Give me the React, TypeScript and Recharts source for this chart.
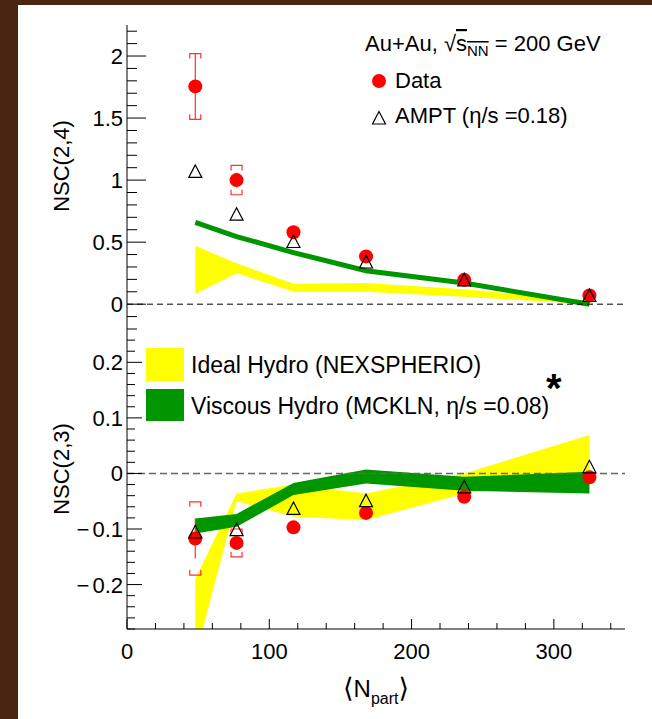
import React from "react";
import {
  Area,
  ComposedChart,
  ErrorBar,
  Legend,
  Line,
  ReferenceLine,
  Scatter,
  XAxis,
  YAxis,
} from "recharts";

const FONT = '"Liberation Sans", Arial, Helvetica, sans-serif';
const RED = "#ff0000";
const YELLOW = "#ffff00";
const GREEN = "#009600";

// centrality classes, <Npart>
const npart = [48, 77, 117, 168, 237, 325];

// NSC(2,4)
const nsc24 = [1.755, 1.0, 0.58, 0.385, 0.196, 0.07];
const nsc24Stat = [0.265, 0.06, 0, 0, 0, 0];
const nsc24Sys = [0.265, 0.118, 0, 0, 0, 0];
const nsc24Ampt = [1.07, 0.725, 0.505, 0.34, 0.196, 0.07];
const nsc24IdealLow = [0.083, 0.25, 0.1, 0.1, 0.06, 0.0];
const nsc24IdealHigh = [0.47, 0.33, 0.164, 0.17, 0.12, 0.03];
const nsc24Viscous = [0.66, 0.545, 0.416, 0.27, 0.17, 0.0];

// NSC(2,3)
const nsc23 = [-0.117, -0.125, -0.097, -0.071, -0.042, -0.007];
const nsc23Stat = [0.036, 0.01, 0, 0, 0, 0];
const nsc23Sys = [0.066, 0.025, 0, 0, 0, 0];
const nsc23Ampt = [-0.105, -0.101, -0.063, -0.049, -0.024, 0.012];
const nsc23IdealLow = [-0.33, -0.05, -0.078, -0.084, -0.036, -0.005];
const nsc23IdealHigh = [-0.19, -0.036, -0.02, -0.036, 0.0, 0.069];
const nsc23ViscousLow = [-0.108, -0.096, -0.039, -0.018, -0.031, -0.036];
const nsc23ViscousHigh = [-0.081, -0.073, -0.017, 0.007, -0.006, 0.003];

// axis ticks
const xTicks = Array.from({ length: 18 }, (_, i) => i * 20);
const y24Ticks = Array.from({ length: 25 }, (_, i) => (i - 2) / 10);
const y23Ticks = Array.from({ length: 27 }, (_, i) => (i - 14) / 50);

const points = (ys: number[], errs?: number[]) =>
  npart.map((x, i) => ({ x, y: ys[i], stat: errs ? errs[i] : 0 }));

const band = (lo: number[], hi: number[]) =>
  npart.map((x, i) => ({ x, band: [lo[i], hi[i]] }));

const brackets = (ys: number[], sys: number[]) =>
  npart.flatMap((x, i) =>
    sys[i] > 0
      ? [
          { x, y: ys[i] + sys[i], side: "top" },
          { x, y: ys[i] - sys[i], side: "bottom" },
        ]
      : []
  );

const Dot = (p: any) => <circle cx={p.cx} cy={p.cy} r={7} fill={RED} />;

const Tri = (p: any) => (
  <path
    d={`M${p.cx},${p.cy - 6.5}L${p.cx + 6.5},${p.cy + 6}L${p.cx - 6.5},${p.cy + 6}Z`}
    fill="none"
    stroke="#000"
    strokeWidth={1.2}
  />
);

const Bracket = (p: any) => {
  const { cx, cy, payload } = p;
  const h = payload.side === "top" ? 5 : -5;
  return (
    <path
      d={`M${cx - 5.5},${cy + h}V${cy}H${cx + 5.5}V${cy + h}`}
      fill="none"
      stroke="#ff3030"
      strokeWidth={1.2}
    />
  );
};

// tick label, with a roomier minus sign for negative values
const TickText = ({ v, ...rest }: any) => {
  const s = String(Math.round(Math.abs(v) * 100) / 100);
  return (
    <text fontSize={22} fontFamily={FONT} fill="#000" {...rest}>
      {v < 0 && <tspan>{"\u2212"}</tspan>}
      <tspan dx={v < 0 ? 3 : 0}>{s}</tspan>
    </text>
  );
};

const yTick =
  (isMajor: (v: number) => boolean, majorLen: number, minorLen: number) =>
  (p: any) => {
    const v = p.payload.value;
    const major = isMajor(v);
    return (
      <g>
        <line
          x1={p.x}
          x2={p.x + (major ? majorLen : minorLen)}
          y1={p.y}
          y2={p.y}
          stroke="#000"
        />
        {major && <TickText v={v} x={p.x - 4} y={p.y + 8} textAnchor="end" />}
      </g>
    );
  };

const xTick = (labels: boolean) => (p: any) => {
  const v = p.payload.value;
  const major = v % 100 === 0;
  return (
    <g>
      <line x1={p.x} x2={p.x} y1={p.y} y2={p.y - (major ? 10 : 6)} stroke="#000" />
      {labels && major && <TickText v={v} x={p.x} y={p.y + 30} textAnchor="middle" />}
    </g>
  );
};

const isHalf = (v: number) => Math.abs(v * 2 - Math.round(v * 2)) < 1e-6;
const isTenth = (v: number) => Math.abs(v * 10 - Math.round(v * 10)) < 1e-6;

const yTitle = (text: string, cy: number) => () =>
  (
    <text
      transform={`translate(69,${cy}) rotate(-90)`}
      textAnchor="middle"
      fontSize={22}
      fontFamily={FONT}
      fill="#000"
    >
      {text}
    </text>
  );

const UpperLegend = () => (
  <svg width={652} height={330} style={{ display: "block" }}>
    <text x={365} y={51} fontSize={22} fontFamily={FONT} fill="#000">
      <tspan>Au+Au, </tspan>
      <tspan>{"\u221a"}</tspan>
      <tspan style={{ textDecoration: "overline" }}>s</tspan>
      <tspan dy={5} fontSize={15} style={{ textDecoration: "overline" }}>
        NN
      </tspan>
      <tspan dy={-5}> = 200 GeV</tspan>
    </text>
    <circle cx={379} cy={81} r={7} fill={RED} />
    <text x={395} y={88} fontSize={22} fontFamily={FONT} fill="#000">
      Data
    </text>
    <path d="M379,111.5L385.5,124L372.5,124Z" fill="none" stroke="#000" strokeWidth={1.2} />
    <text x={395} y={123} fontSize={22} fontFamily={FONT} fill="#000">
      AMPT ({"\u03b7"}/s =0.18)
    </text>
  </svg>
);

const LowerLegend = () => (
  <svg width={652} height={719} style={{ display: "block" }}>
    <rect x={146} y={348} width={38} height={33} fill={YELLOW} />
    <rect x={146} y={389} width={38} height={32} fill={GREEN} />
    <text x={191} y={373} fontSize={23} fontFamily={FONT} fill="#000">
      Ideal Hydro (NEXSPHERIO)
    </text>
    <text x={191} y={414} fontSize={23} fontFamily={FONT} fill="#000">
      Viscous Hydro (MCKLN, {"\u03b7"}/s =0.08)
    </text>
    <text x={546} y={402} fontSize={40} fontWeight="bold" fontFamily={FONT} fill="#000">
      *
    </text>
  </svg>
);

const legendProps = {
  layout: "vertical" as const,
  align: "center" as const,
  verticalAlign: "middle" as const,
};

const UpperPanel = () => (
  <ComposedChart width={652} height={330} margin={{ top: 25, right: 27, bottom: 1, left: 0 }}>
    <XAxis
      dataKey="x"
      type="number"
      domain={[0, 350]}
      allowDataOverflow
      ticks={xTicks}
      interval={0}
      height={0}
      tickSize={0}
      tickMargin={0}
      tickLine={false}
      tick={xTick(false)}
      axisLine={{ stroke: "#000" }}
    />
    <XAxis xAxisId="top" orientation="top" type="number" domain={[0, 350]} height={0} tick={false} tickLine={false} axisLine={{ stroke: "#000" }} />
    <YAxis
      dataKey="y"
      type="number"
      domain={[-0.2, 2.25]}
      allowDataOverflow
      ticks={y24Ticks}
      interval={0}
      width={127}
      tickSize={0}
      tickMargin={0}
      tickLine={false}
      tick={yTick(isHalf, 19, 10)}
      axisLine={{ stroke: "#000" }}
      label={{ content: yTitle("NSC(2,4)", 166) }}
    />
    <YAxis yAxisId="right" orientation="right" type="number" domain={[0, 1]} width={0} tick={false} tickLine={false} axisLine={{ stroke: "#000" }} />
    <Area
      data={band(nsc24IdealLow, nsc24IdealHigh)}
      dataKey="band"
      type="linear"
      fill={YELLOW}
      fillOpacity={1}
      stroke="none"
      dot={false}
      activeDot={false}
      isAnimationActive={false}
    />
    <Line
      data={points(nsc24Viscous)}
      dataKey="y"
      type="linear"
      stroke={GREEN}
      strokeWidth={5}
      dot={false}
      activeDot={false}
      isAnimationActive={false}
    />
    <ReferenceLine y={0} stroke="#000" strokeDasharray="6 4" zIndex={450} />
    <Scatter data={brackets(nsc24, nsc24Sys)} dataKey="y" shape={Bracket} isAnimationActive={false} />
    <Scatter data={points(nsc24, nsc24Stat)} dataKey="y" shape={Dot} isAnimationActive={false}>
      <ErrorBar dataKey="stat" direction="y" width={0} stroke="#ff3030" strokeWidth={1.2} />
    </Scatter>
    <Scatter data={points(nsc24Ampt)} dataKey="y" shape={Tri} isAnimationActive={false} />
    <Legend {...legendProps} content={UpperLegend} wrapperStyle={{ position: "absolute", left: 0, top: 0, width: 652, height: 330 }} />
  </ComposedChart>
);

const LowerPanel = () => (
  <ComposedChart width={652} height={719} margin={{ top: 329, right: 27, bottom: 0, left: 0 }}>
    <XAxis
      dataKey="x"
      type="number"
      domain={[0, 350]}
      allowDataOverflow
      ticks={xTicks}
      interval={0}
      height={90}
      tickSize={0}
      tickMargin={0}
      tickLine={false}
      tick={xTick(true)}
      axisLine={{ stroke: "#000" }}
      label={{
        content: () => (
          <text x={376} y={697} textAnchor="middle" fontSize={24} fontFamily={FONT} fill="#000">
            <tspan fontFamily="DejaVu Sans" fontSize={27}>{"\u27e8"}</tspan>
            <tspan>N</tspan>
            <tspan dy={7} fontSize={16}>part</tspan>
            <tspan dy={-7} fontFamily="DejaVu Sans" fontSize={27}>{"\u27e9"}</tspan>
          </text>
        ),
      }}
    />
    <YAxis
      dataKey="y"
      type="number"
      domain={[-0.28, 0.26]}
      allowDataOverflow
      ticks={y23Ticks}
      interval={0}
      width={127}
      tickSize={0}
      tickMargin={0}
      tickLine={false}
      tick={yTick(isTenth, 15, 8)}
      axisLine={{ stroke: "#000" }}
      label={{ content: yTitle("NSC(2,3)", 469) }}
    />
    <YAxis yAxisId="right" orientation="right" type="number" domain={[0, 1]} width={0} tick={false} tickLine={false} axisLine={{ stroke: "#000" }} />
    <Area
      data={band(nsc23IdealLow, nsc23IdealHigh)}
      dataKey="band"
      type="linear"
      fill={YELLOW}
      fillOpacity={1}
      stroke="none"
      dot={false}
      activeDot={false}
      isAnimationActive={false}
    />
    <Area
      data={band(nsc23ViscousLow, nsc23ViscousHigh)}
      dataKey="band"
      type="linear"
      fill={GREEN}
      fillOpacity={1}
      stroke="none"
      dot={false}
      activeDot={false}
      isAnimationActive={false}
    />
    <ReferenceLine y={0} stroke="#666" strokeWidth={1.5} strokeDasharray="7 4" zIndex={450} />
    <Scatter data={brackets(nsc23, nsc23Sys)} dataKey="y" shape={Bracket} isAnimationActive={false} />
    <Scatter data={points(nsc23, nsc23Stat)} dataKey="y" shape={Dot} isAnimationActive={false}>
      <ErrorBar dataKey="stat" direction="y" width={0} stroke="#ff3030" strokeWidth={1.2} />
    </Scatter>
    <Scatter data={points(nsc23Ampt)} dataKey="y" shape={Tri} isAnimationActive={false} />
    <Legend {...legendProps} content={LowerLegend} wrapperStyle={{ position: "absolute", left: 0, top: 0, width: 652, height: 719 }} />
  </ComposedChart>
);

export default function App() {
  return (
    <div
      style={{
        position: "fixed",
        left: 0,
        top: 0,
        width: 652,
        height: 719,
        background: "#fff",
        overflow: "hidden",
      }}
    >
      <div style={{ position: "absolute", left: 0, top: 0, width: 18, height: 719, background: "#4a2511" }} />
      <div style={{ position: "absolute", left: 0, top: 0, width: 652, height: 5, background: "#4a2511" }} />
      <div style={{ position: "absolute", left: 0, top: 0 }}>
        <LowerPanel />
      </div>
      <div style={{ position: "absolute", left: 0, top: 0 }}>
        <UpperPanel />
      </div>
    </div>
  );
}
